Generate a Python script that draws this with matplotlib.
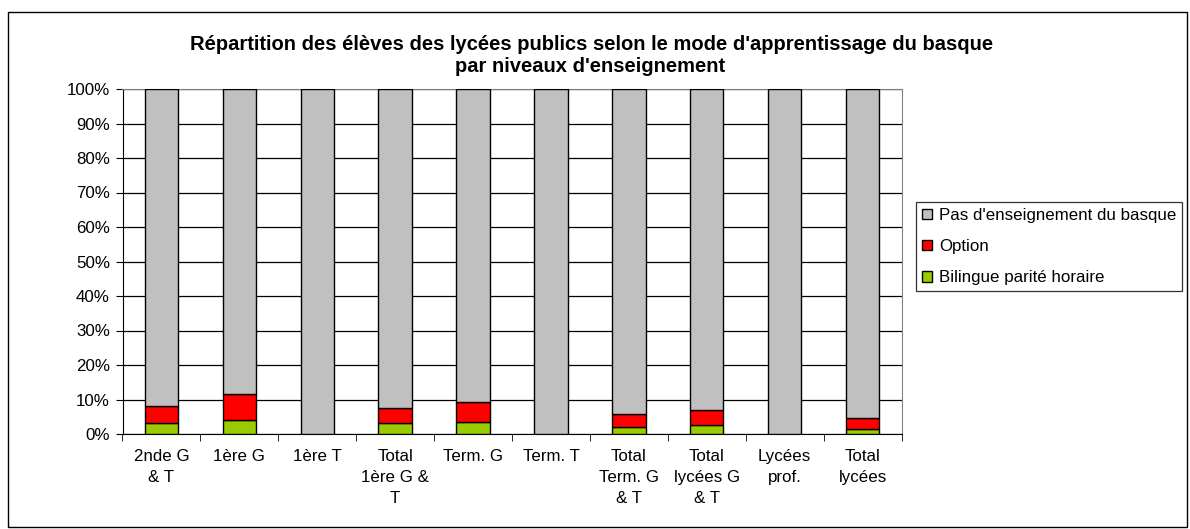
import numpy as np
import matplotlib.pyplot as plt
from matplotlib.patches import Rectangle

plt.rcParams['font.family'] = ['Liberation Sans', 'DejaVu Sans']

categories = ['2nde G\n& T', '1ère G', '1ère T', 'Total\n1ère G &\nT', 'Term. G',
              'Term. T', 'Total\nTerm. G\n& T', 'Total\nlycées G\n& T', 'Lycées\nprof.', 'Total\nlycées']
bilingue = [3.1, 4.2, 0.0, 3.1, 3.4, 0.0, 1.9, 2.6, 0.0, 1.5]
option = [4.9, 7.3, 0.0, 4.4, 5.8, 0.0, 3.8, 4.3, 0.0, 3.2]

bilingue = np.array(bilingue)
option = np.array(option)
pas = 100 - bilingue - option

fs = 12.2

fig = plt.figure(figsize=(11.9, 5.29), dpi=100)
ax = fig.add_axes([122.5 / 1190, 1 - 434 / 529, 779 / 1190, 345 / 529])

x = np.arange(len(categories))
w = 0.43
ax.bar(x, bilingue, w, color='#99CC00', edgecolor='black', linewidth=1, zorder=3,
       label='Bilingue parité horaire')
ax.bar(x, option, w, bottom=bilingue, color='#FF0000', edgecolor='black', linewidth=1, zorder=3,
       label='Option')
ax.bar(x, pas, w, bottom=bilingue + option, color='#C0C0C0', edgecolor='black', linewidth=1, zorder=3,
       label="Pas d'enseignement du basque")

ax.set_xlim(-0.5, len(categories) - 0.5)
ax.set_ylim(0, 100)
ax.set_yticks(np.arange(0, 101, 10))
ax.set_yticklabels([f'{v}%' for v in range(0, 101, 10)], fontsize=fs)
ax.yaxis.grid(True, color='black', linewidth=0.9, zorder=0)
ax.set_axisbelow(True)

ax.set_xticks(x)
ax.set_xticklabels(categories, fontsize=fs, linespacing=1.5, va='top')
ax.tick_params(axis='x', length=0, pad=11)
ax.set_xticks(np.arange(-0.5, len(categories)), minor=True)
ax.tick_params(axis='x', which='minor', length=5, direction='out', color='black')
ax.tick_params(axis='y', length=5, direction='out', color='black', pad=4)

for s in ['top', 'right']:
    ax.spines[s].set_color('#808080')
for s in ['left', 'bottom']:
    ax.spines[s].set_color('black')

handles, labels = ax.get_legend_handles_labels()
leg = fig.legend(handles[::-1], labels[::-1], loc='upper left',
                 bbox_to_anchor=(916 / 1190, 1 - 202 / 529), fontsize=fs,
                 frameon=True, fancybox=False, edgecolor='black', handlelength=0.6,
                 handleheight=0.6, handletextpad=0.4, labelspacing=0.95, borderpad=0.35,
                 borderaxespad=0)
leg.get_frame().set_linewidth(0.9)

fig.text(592 / 1190, 1 - 45 / 529,
         "Répartition des élèves des lycées publics selon le mode d'apprentissage du basque",
         ha='center', va='center', fontsize=14.5, fontweight='bold')
fig.text(590 / 1190, 1 - 66 / 529, "par niveaux d'enseignement",
         ha='center', va='center', fontsize=14.5, fontweight='bold')

fig.patches.append(Rectangle((8 / 1190, 2 / 529), 1179 / 1190, 515 / 529, transform=fig.transFigure,
                             fill=False, edgecolor='black', linewidth=1))

fig.savefig('out.png', dpi=100)
